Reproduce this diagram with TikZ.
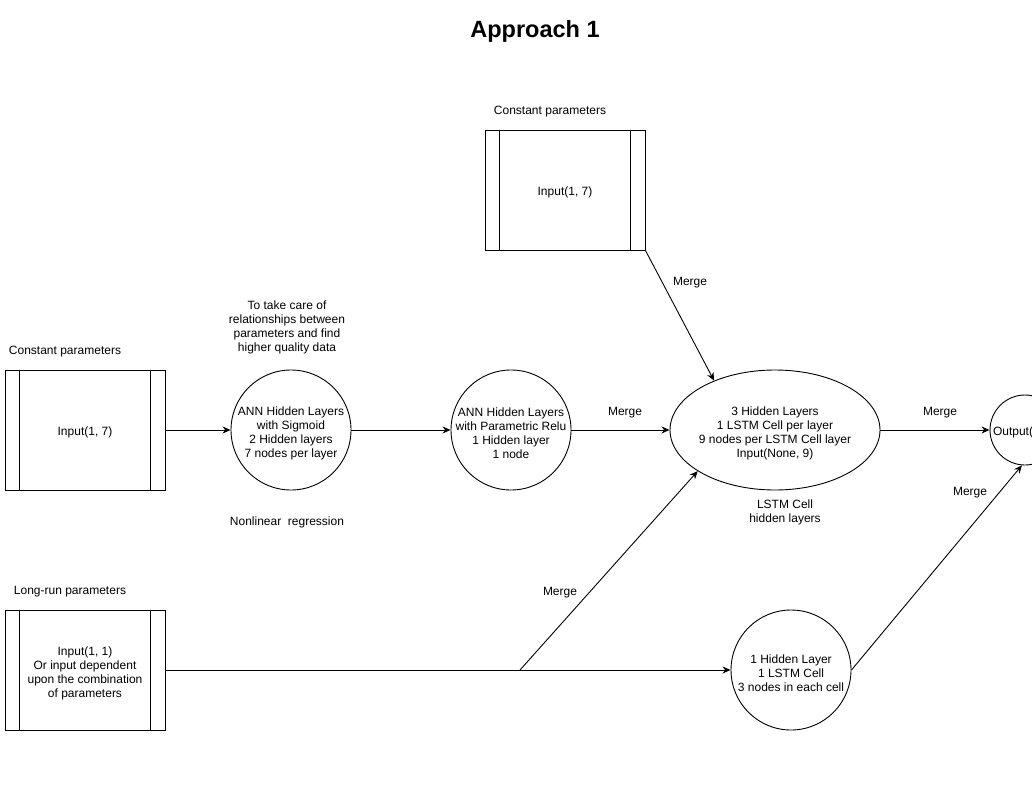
\documentclass[tikz,border=0pt]{standalone}
\usepackage{fontspec}
\setmainfont{Liberation Sans}
\usetikzlibrary{shapes.geometric,arrows.meta}
\begin{document}
\begin{tikzpicture}[x=1pt,y=-1pt,line width=0.9pt,
        >={Stealth[length=8pt,width=7pt]},
        lbl/.style={font=\fontsize{12}{14}\selectfont,align=center,inner sep=0pt,yshift=-2pt},
        inbox/.style={draw,minimum width=160pt,minimum height=120pt,inner sep=0pt},
        hub/.style={draw,circle,minimum size=120pt,inner sep=0pt}]
    \fill[white] (0,0) rectangle (1032,802);
    \useasboundingbox (0,0) rectangle (1032,802);
    \clip (0,0) rectangle (1032,802);

    \node[font=\fontsize{23.5}{28}\selectfont\bfseries] (title) at (535,31) {Approach 1};

    \node[inbox] (inT) at (565,190) {};
    \node[inbox] (inA) at (85,430) {};
    \node[inbox] (inC) at (85,670) {};
    \foreach \b in {inT,inA,inC} {
        \draw ([xshift=15pt]\b.north west) -- ([xshift=15pt]\b.south west);
        \draw ([xshift=-15pt]\b.north east) -- ([xshift=-15pt]\b.south east);
    }
    \node[lbl] (inTtxt) at (inT) {Input(1, 7)};
    \node[lbl] (inAtxt) at (inA) {Input(1, 7)};
    \node[lbl] (inCtxt) at (85,671) {Input(1, 1)\\Or input dependent\\upon the combination\\of parameters};
    \node[lbl] (inTlbl) at (550,110) {Constant parameters};
    \node[lbl] (inAlbl) at (65,350) {Constant parameters};
    \node[lbl] (inClbl) at (70,590) {Long-run parameters};

    \node[hub] (s1) at (291,430) {};
    \node[hub] (s2) at (511,430) {};
    \node[hub] (s3) at (791,670) {};
    \node[draw,ellipse,minimum width=210pt,minimum height=120pt,inner sep=0pt] (ls) at (775,430) {};
    \node[draw,circle,minimum size=70pt,inner sep=0pt] (out) at (1025,430) {};

    \node[lbl] (s1txt) at (291,431) {ANN Hidden Layers\\with Sigmoid\\2 Hidden layers\\7 nodes per layer};
    \node[lbl] (s2txt) at (511,431) {ANN Hidden Layers\\with Parametric Relu\\1 Hidden layer\\1 node};
    \node[lbl] (s3txt) at (791,671) {1 Hidden Layer\\1 LSTM Cell\\3 nodes in each cell};
    \node[lbl] (lstxt) at (775,431) {3 Hidden Layers\\1 LSTM Cell per layer\\9 nodes per LSTM Cell layer\\Input(None, 9)};
    \node[lbl] (outtxt) at (1025,430) {Output(1, 1)};

    \node[lbl] (s1up) at (287,325) {To take care of\\relationships between\\parameters and find\\higher quality data};
    \node[lbl] (s1dn) at (287,520) {Nonlinear\ \ regression};
    \node[lbl] (lsdn) at (785,510) {LSTM Cell\\hidden layers};

    \node[lbl] (m1) at (625,411) {Merge};
    \node[lbl] (m2) at (690,281) {Merge};
    \node[lbl] (m3) at (560,591) {Merge};
    \node[lbl] (m4) at (940,411) {Merge};
    \node[lbl] (m5) at (970,491) {Merge};

    \coordinate (split) at (520,670);

    \draw[->] (inA) -- (s1);
    \draw[->] (s1) -- (s2);
    \draw[->] (s2) -- (ls);
    \draw[->] (inT.south east) -- (ls.141);
    \draw[->] (inC) -- (s3);
    \draw[->] (split) -- (ls.208);
    \draw[->] (ls) -- (out);
    \draw[->] (s3.east) -- (out.265);
\end{tikzpicture}
\end{document}
